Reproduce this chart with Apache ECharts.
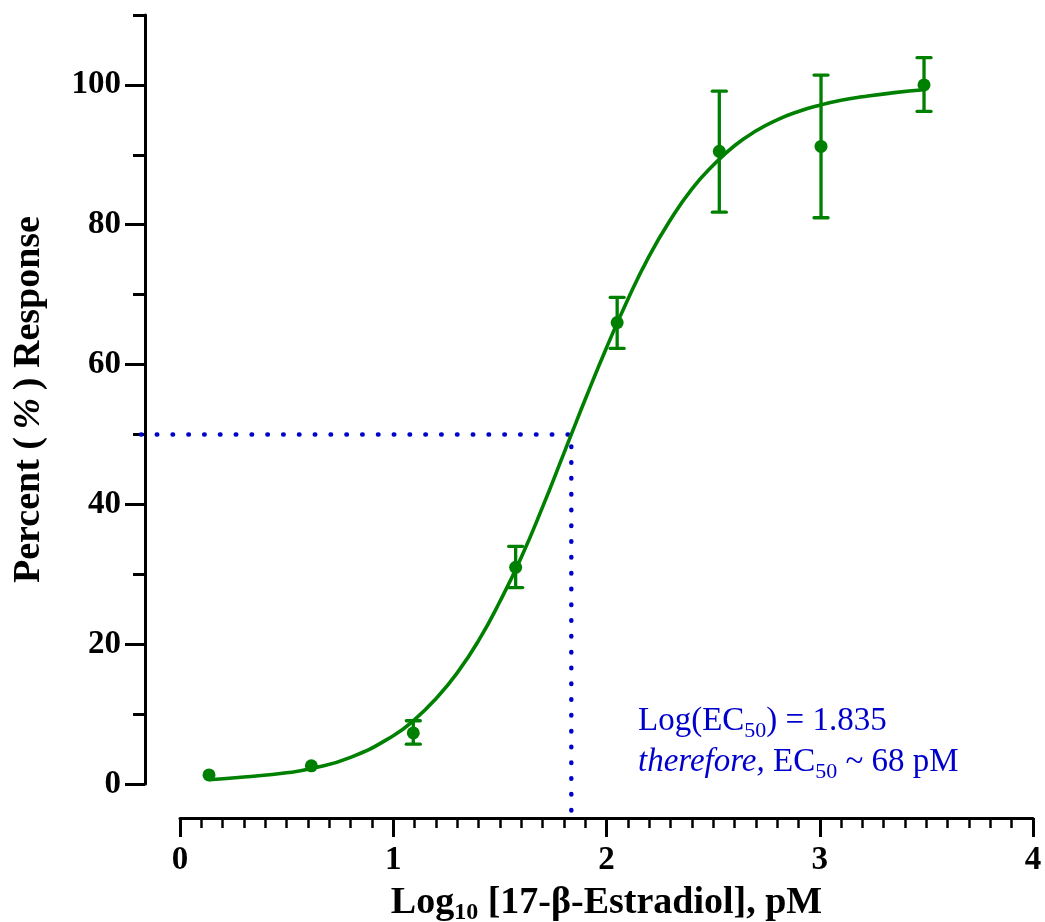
<!DOCTYPE html>
<html>
<head>
<meta charset="utf-8">
<script src="https://cdn.jsdelivr.net/npm/echarts@6/dist/echarts.min.js"></script>
<style>
html,body{margin:0;padding:0;background:#fff;}
#chart{width:1045px;height:922px;}
</style>
</head>
<body>
<div id="chart"></div>
<script>
// ---- data ----
const pointX   = [0.136, 0.616, 1.094, 1.574, 2.050, 2.529, 3.006, 3.489];
const pointY   = [1.3, 2.6, 7.3, 31.0, 66.0, 90.5, 91.2, 100.0];
const errLow   = [1.3, 2.6, 5.7, 28.1, 62.3, 81.8, 81.0, 96.2];
const errHigh  = [1.3, 2.6, 9.05, 34.0, 69.6, 99.1, 101.4, 103.9];

const curveX = [0.136, 0.3, 0.5, 0.616, 0.8, 1.0, 1.1, 1.2, 1.3, 1.4, 1.5, 1.6, 1.7, 1.8, 1.835, 1.9, 2.0, 2.1, 2.2, 2.3, 2.4, 2.5, 2.6, 2.7, 2.8, 2.9, 3.0, 3.1, 3.2, 3.35, 3.489];
const curveY = [0.6, 1.0, 1.6, 2.2, 3.8, 6.9, 9.2, 12.2, 15.9, 20.5, 26.1, 32.4, 39.6, 47.3, 50.0, 55.0, 62.4, 69.3, 75.5, 80.7, 85.1, 88.5, 91.3, 93.4, 95.0, 96.2, 97.1, 97.8, 98.3, 98.9, 99.3];

const logEC50 = 1.835;
const refX = [-0.183, logEC50, logEC50];
const refY = [50, 50, -4.9];

const yMajorTicks = [0, 20, 40, 60, 80, 100];
const yMinorTicks = [10, 30, 50, 70, 90, 110];

// ---- styles ----
const GREEN = '#008000';
const BLUE = '#0000cc';
const SERIF = "'Liberation Serif', 'Times New Roman', serif";

const chart = echarts.init(document.getElementById('chart'), null, {renderer: 'canvas'});

const gridBox = {left: 180, right: 12, top: 15, bottom: 138, containLabel: false, outerBoundsMode: 'none'};

const option = {
  animation: false,
  backgroundColor: '#fff',
  title: {
    left: 638, top: 701, padding: 0,
    text: '{n|Log(EC}{s|50}{n|) = 1.835}\n{i|therefore,}{n| EC}{s|50}{n| ~ 68 pM}',
    textStyle: {
      fontWeight: 'normal',
      rich: {
        n: {fontFamily: SERIF, fontSize: 33, fontWeight: 'normal', color: BLUE, lineHeight: 41},
        i: {fontFamily: SERIF, fontSize: 33, fontWeight: 'normal', color: BLUE, lineHeight: 41, fontStyle: 'italic'},
        s: {fontFamily: SERIF, fontSize: 22, fontWeight: 'normal', color: BLUE, lineHeight: 18, verticalAlign: 'bottom'}
      }
    }
  },
  grid: [Object.assign({}, gridBox), Object.assign({}, gridBox)],
  xAxis: [
    {
      type: 'value', min: 0, max: 4, interval: 1, gridIndex: 0,
      offset: 34,
      axisLine: {show: true, onZero: false, lineStyle: {color: '#000', width: 3}},
      axisTick: {show: true, length: 19, lineStyle: {color: '#000', width: 3}},
      minorTick: {show: true, splitNumber: 10, length: 10, lineStyle: {color: '#000', width: 2.5}},
      splitLine: {show: false},
      axisLabel: {fontFamily: SERIF, fontSize: 33, fontWeight: 'bold', color: '#000', margin: 26},
      name: '{a|Log}{b|10}{a| [17-β-Estradiol], pM}',
      nameLocation: 'middle', nameGap: 63,
      nameTextStyle: {
        rich: {
          a: {fontFamily: SERIF, fontSize: 38, fontWeight: 'bold', color: '#000', lineHeight: 44},
          b: {fontFamily: SERIF, fontSize: 24, fontWeight: 'bold', color: '#000', lineHeight: 20, verticalAlign: 'bottom'}
        }
      }
    },
    {
      type: 'value', min: 0, max: 4, gridIndex: 1, show: false
    }
  ],
  yAxis: [
    {
      type: 'value', min: 0, max: 110, interval: 10, gridIndex: 0,
      position: 'left', offset: 35,
      axisLine: {show: true, onZero: false, lineStyle: {color: '#000', width: 3}},
      axisTick: {show: true, length: 20, customValues: yMajorTicks, lineStyle: {color: '#000', width: 3}},
      axisLabel: {customValues: yMajorTicks, fontFamily: SERIF, fontSize: 33, fontWeight: 'bold', color: '#000', margin: 24},
      splitLine: {show: false},
      name: '{a|Percent (\u2009}{i|%}{a|\u2009) Response}',
      nameLocation: 'middle', nameGap: 97, nameRotate: 90,
      nameTextStyle: {
        rich: {
          a: {fontFamily: SERIF, fontSize: 38, fontWeight: 'bold', color: '#000'},
          i: {fontFamily: SERIF, fontSize: 38, fontWeight: 'bold', fontStyle: 'italic', color: '#000'}
        }
      }
    },
    {
      type: 'value', min: 0, max: 110, interval: 10, gridIndex: 1,
      position: 'left', offset: 35,
      axisLine: {show: false, onZero: false},
      axisTick: {show: true, length: 12, customValues: yMinorTicks, lineStyle: {color: '#000', width: 3}},
      axisLabel: {show: false},
      splitLine: {show: false}
    }
  ],
  series: [
    {
      name: 'ref',
      type: 'custom',
      clip: false,
      data: [[logEC50, 50]],
      renderItem: function (params, api) {
        const pts = refX.map((x, i) => api.coord([x, refY[i]]));
        return {
          type: 'polyline',
          shape: {points: pts},
          style: {stroke: BLUE, fill: null, lineWidth: 4.5, lineDash: [0.5, 15.3], lineCap: 'round', lineJoin: 'round'}
        };
      },
      z: 1
    },
    {
      name: 'fit',
      type: 'line',
      data: curveX.map((x, i) => [x, curveY[i]]),
      symbol: 'none',
      smooth: true,
      lineStyle: {color: GREEN, width: 3.6},
      z: 2
    },
    {
      name: 'err',
      type: 'custom',
      data: pointX.map((x, i) => [x, errLow[i], errHigh[i]]),
      renderItem: function (params, api) {
        const x = api.value(0);
        const lo = api.coord([x, api.value(1)]);
        const hi = api.coord([x, api.value(2)]);
        if (Math.abs(hi[1] - lo[1]) < 1) return {type: 'group', children: []};
        const w = 7;
        const st = {stroke: GREEN, lineWidth: 3.3};
        return {
          type: 'group',
          children: [
            {type: 'line', shape: {x1: lo[0], y1: lo[1], x2: hi[0], y2: hi[1]}, style: st},
            {type: 'line', shape: {x1: lo[0] - w, y1: lo[1], x2: lo[0] + w, y2: lo[1]}, style: Object.assign({lineCap: 'round'}, st)},
            {type: 'line', shape: {x1: hi[0] - w, y1: hi[1], x2: hi[0] + w, y2: hi[1]}, style: Object.assign({lineCap: 'round'}, st)}
          ]
        };
      },
      z: 3
    },
    {
      name: 'mean',
      type: 'scatter',
      data: pointX.map((x, i) => [x, pointY[i]]),
      symbol: 'circle',
      symbolSize: 13,
      itemStyle: {color: GREEN, opacity: 1},
      z: 4
    }
  ]
};
chart.setOption(option);
</script>
</body>
</html>
